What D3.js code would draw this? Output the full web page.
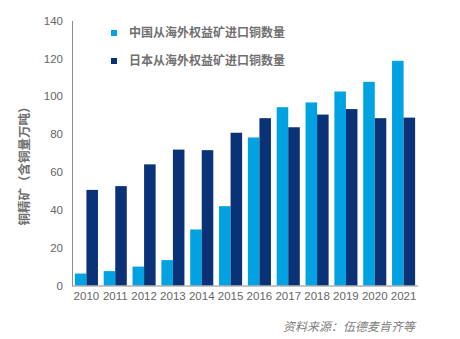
<!DOCTYPE html>
<html><head><meta charset="utf-8">
<script src="https://cdn.jsdelivr.net/npm/d3@7"></script>
<style>html,body{margin:0;padding:0;background:#fff;}svg{display:block;}</style>
</head><body><svg id="c" width="460" height="339"></svg>
<script>
const years = ["2010","2011","2012","2013","2014","2015","2016","2017","2018","2019","2020","2021"];
const chinaValues = [6.3, 7.6, 10, 13.4, 29.6, 41.9, 78.2, 94.2, 96.7, 102.5, 107.6, 118.7];
const japanValues = [50.5, 52.5, 64, 71.8, 71.5, 80.7, 88.4, 83.6, 90.3, 93.2, 88.4, 88.7];
const seriesNames = ["中国从海外权益矿进口铜数量", "日本从海外权益矿进口铜数量"];
const yTicks = [0, 20, 40, 60, 80, 100, 120, 140];
const yTitle = "铜精矿（含铜量万吨）";
const sourceText = "资料来源：伍德麦肯齐等";
const colors = ["#00A2E1", "#0A3276"];

(function(){
const svg = d3.select("#c");
const font = "'Liberation Sans', Arial, 'Noto Sans CJK SC', sans-serif";
const mLeft = 72, mRight = 418, mTop = 20.5, mBottom = 285.5;

const x = d3.scaleBand().domain(years).range([mLeft, mRight]).paddingInner(0.2).paddingOuter(0.1);
const x1 = d3.scaleBand().domain([0, 1]).range([0, x.bandwidth()]);
const y = d3.scaleLinear().domain([0, 140]).range([mBottom, mTop]);

const series = [chinaValues, japanValues];
series.forEach((vals, si) => {
  svg.append("g").selectAll("rect").data(vals).join("rect")
    .attr("x", (d, i) => x(years[i]) + x1(si))
    .attr("width", x1.bandwidth())
    .attr("y", d => y(d))
    .attr("height", d => y(0) - y(d))
    .attr("fill", colors[si]);
});

const ya = svg.append("g").attr("transform", `translate(${mLeft},0)`)
  .call(d3.axisLeft(y).tickValues(yTicks).tickSize(0).tickPadding(9));
ya.select(".domain").attr("stroke", "#8c8c8c");
ya.selectAll("text").attr("fill", "#666").style("font-family", font).style("font-size", "11.5px");

const xa = svg.append("g").attr("transform", `translate(0,${mBottom})`)
  .call(d3.axisBottom(x).tickSize(0).tickPadding(6));
xa.select(".domain").attr("stroke", "#8c8c8c").attr("d", `M${mLeft},0.5H${mRight}`);
xa.selectAll("text").attr("fill", "#666").style("font-family", font).style("font-size", "11.5px");

svg.append("text")
  .attr("transform", `translate(29,163) rotate(-90)`)
  .attr("text-anchor", "middle")
  .attr("fill", "#707070")
  .style("font-family", font).style("font-size", "12.5px").style("font-weight", "bold")
  .text(yTitle);

seriesNames.forEach((n, i) => {
  const ly = 33 + i * 28;
  svg.append("rect").attr("x", 111).attr("y", ly - 3).attr("width", 6).attr("height", 6).attr("fill", colors[i]);
  svg.append("text").attr("x", 129).attr("y", ly).attr("dy", "0.35em")
    .attr("fill", "#707070").style("font-family", font).style("font-size", "12px").style("font-weight", "bold")
    .text(n);
});

svg.append("text").attr("x", 415).attr("y", 327).attr("dy", "0.35em").attr("text-anchor", "end")
  .attr("fill", "#808080").style("font-family", font).style("font-size", "12px").style("font-style", "italic")
  .text(sourceText);
})();
</script></body></html>
